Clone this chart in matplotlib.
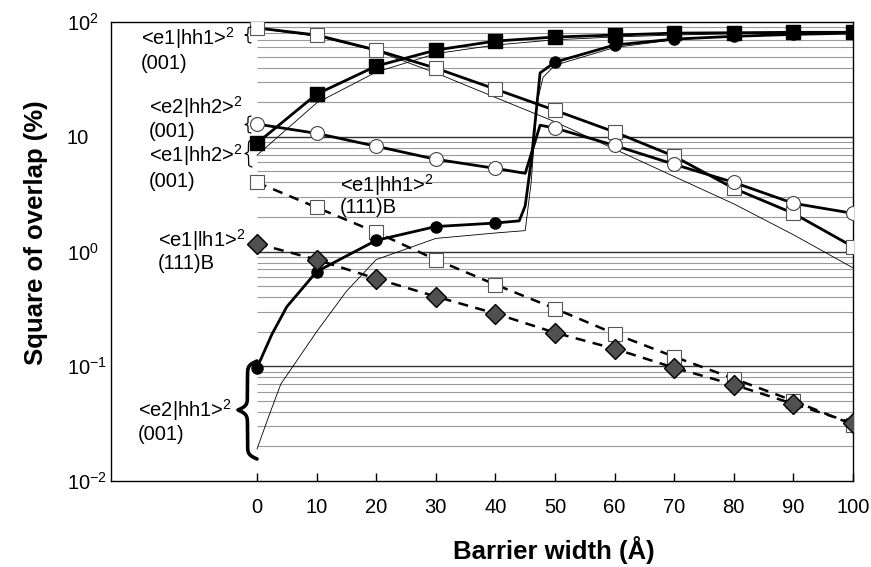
import numpy as np
import matplotlib.pyplot as plt
from matplotlib.lines import Line2D
from matplotlib.ticker import NullLocator

plt.rcParams['font.family'] = ['Liberation Sans', 'DejaVu Sans']
plt.rcParams['mathtext.fontset'] = 'custom'
plt.rcParams['mathtext.rm'] = 'Liberation Sans'
plt.rcParams['mathtext.it'] = 'Liberation Sans:italic'
plt.rcParams['mathtext.bf'] = 'Liberation Sans:bold'

# barrier widths (A) where markers sit
width = [0, 10, 20, 30, 40, 50, 60, 70, 80, 90, 100]

# <e1|hh1>^2 (001), open squares + thin companion curve
e1hh1_001 = [88.7, 77, 57, 39.6, 26, 17, 11, 6.76, 3.55, 2.15, 1.1]
e1hh1_001_thin = [88, 75, 56, 36, 22, 13.5, 7.8, 4.5, 2.6, 1.4, 0.72]

# <e1|hh2>^2 (001), filled squares
e1hh2_001 = [8.8, 23.5, 41.3, 56.9, 68.2, 74, 76.9, 80, 80.6, 81.3, 81.3]
e1hh2_001_thin = [6.9, 19.7, 36.6, 53, 63, 70, 74, 77, 79, 80, 81]

# <e2|hh2>^2 (001), open circles (anticrossing near 46 A)
e2hh2_x = [0, 10, 20, 30, 40, 45, 47.5, 50, 60, 70, 80, 90, 100]
e2hh2_001 = [12.9, 10.7, 8.26, 6.36, 5.3, 4.8, 12.6, 11.9, 8.4, 5.75, 4.0, 2.63, 2.15]

# <e2|hh1>^2 (001), filled circles
e2hh1_x = [0, 2.5, 5, 10, 20, 30, 40, 44, 45, 46, 47, 47.5, 50, 60, 70, 80, 90, 100]
e2hh1_001 = [0.097, 0.19, 0.33, 0.668, 1.25, 1.65, 1.77, 1.85, 2.5, 6.1, 20, 36,
             44.7, 63, 71, 75, 78, 80]
e2hh1_thin_x = [0, 2, 4, 10, 15, 20, 30, 40, 45, 46, 47, 48, 50, 60, 70, 80, 90, 100]
e2hh1_001_thin = [0.019, 0.037, 0.07, 0.2, 0.45, 0.85, 1.3, 1.45, 1.52, 4, 20, 33,
                  42, 60, 70, 75, 78, 80]

# (111)B series, dashed
e1hh1_111 = [4.0, 2.42, 1.47, 0.85, 0.515, 0.318, 0.192, 0.121, 0.078, 0.050, 0.031]
e1lh1_111 = [1.17, 0.85, 0.58, 0.405, 0.288, 0.196, 0.142, 0.097, 0.069, 0.047, 0.032]

W, H = 871, 567
fig = plt.figure(figsize=(W / 100, H / 100), dpi=100)
ax = fig.add_axes([111 / W, 1 - 481 / H, (853 - 111) / W, (481 - 22) / H])
ax.set_yscale('log')
ax.set_xlim(-24.5, 100)
ax.set_ylim(0.01, 100)

# horizontal grid only over the data range
minor = [k * 10.0 ** d for d in range(-2, 2) for k in range(2, 10)]
ax.hlines(minor, 0, 100, color='#9a9a9a', lw=0.8, zorder=0)
ax.hlines([0.1, 1, 10], 0, 100, color='#333333', lw=1.0, zorder=0)


def marks(x):
    return list(np.isin(x, width))


# thin curves
ax.plot(width, e1hh1_001_thin, color='k', lw=0.6, zorder=2)
ax.plot(width, e1hh2_001_thin, color='k', lw=0.6, zorder=2)
ax.plot(e2hh1_thin_x, e2hh1_001_thin, color='k', lw=0.6, zorder=2)

# thick curves with markers
ax.plot(width, e1hh1_001, color='k', lw=2, marker='s', ms=10, mfc='white',
        mec='#555555', mew=0.8, zorder=4)
ax.plot(width, e1hh2_001, color='k', lw=2, marker='s', ms=9.5, mfc='k', mec='k', zorder=4)
ax.plot(e2hh2_x, e2hh2_001, color='k', lw=2, marker='o', ms=10, mfc='white',
        mec='#444444', mew=0.8, markevery=marks(e2hh2_x), zorder=4)
ax.plot(e2hh1_x, e2hh1_001, color='k', lw=2, marker='o', ms=8, mfc='k', mec='k',
        markevery=marks(e2hh1_x), zorder=4)

ax.plot(width, e1hh1_111, color='k', lw=1.8, ls=(0, (4, 3)), marker='s', ms=10,
        mfc='white', mec='#555555', mew=0.8, zorder=3)
ax.plot(width, e1lh1_111, color='k', lw=1.8, ls=(0, (4, 3)), marker='D', ms=10,
        mfc='#505050', mec='k', mew=1, zorder=4)

# axes styling
ax.set_xticks(width)
ax.tick_params(axis='x', direction='in', length=6, width=1, pad=12, labelsize=14.5)
ax.set_yticks([100, 10, 1, 0.1, 0.01])
ax.set_yticklabels(['$10^{2}$', '10', '$10^{0}$', '$10^{-1}$', '$10^{-2}$'])
ax.yaxis.set_minor_locator(NullLocator())
ax.tick_params(axis='y', length=0, pad=32, labelsize=14.5)
for lbl in ax.get_yticklabels():
    lbl.set_ha('left')
for s in ax.spines.values():
    s.set_linewidth(1)

ax.set_xlabel('Barrier width (\u00c5)', fontsize=18.5, fontweight='bold')
ax.xaxis.label.set_va('center')
ax.xaxis.set_label_coords((554 - 111) / 742, -(550 - 481) / 459)
ax.set_ylabel('Square of overlap (%)', fontsize=18.5, fontweight='bold')
ax.yaxis.label.set_va('center')
ax.yaxis.set_label_coords((36 - 111) / 742, (481 - 233) / 459)


# annotations in pixel coordinates
def label(px, py, s):
    fig.text(px / W, 1 - py / H, s, fontsize=14.5, ha='left', va='baseline')


def brace(x_right, y_top, y_bot, w, lw):
    t = np.linspace(0, 1, 201)
    half = t[:101]
    beta = 45
    h = 1 / (1 + np.exp(-beta * (half - half[0]))) + 1 / (1 + np.exp(-beta * (half - half[-1])))
    off = np.concatenate([h, h[-2::-1]]) - 0.5
    ys = y_top + t * (y_bot - y_top)
    xs = x_right - w * off
    fig.add_artist(Line2D(xs / W, 1 - ys / H, color='k', lw=lw, solid_capstyle='round'))


label(141, 45, '<e1|hh1>$^{2}$')
label(141, 69, '(001)')
label(149, 114, '<e2|hh2>$^{2}$')
label(149, 137, '(001)')
label(149, 162, '<e1|hh2>$^{2}$')
label(149, 187, '(001)')
label(340, 192, '<e1|hh1>$^{2}$')
label(340, 213, '(111)B')
label(158, 247, '<e1|lh1>$^{2}$')
label(158, 269, '(111)B')
label(138, 417, '<e2|hh1>$^{2}$')
label(138, 440, '(001)')

brace(251, 27, 43, 6, 0.9)
brace(251, 116, 133, 6, 0.9)
brace(252, 140, 167, 7, 0.9)
brace(257, 361, 459, 19, 2.6)

fig.savefig('out.png', dpi=100)
